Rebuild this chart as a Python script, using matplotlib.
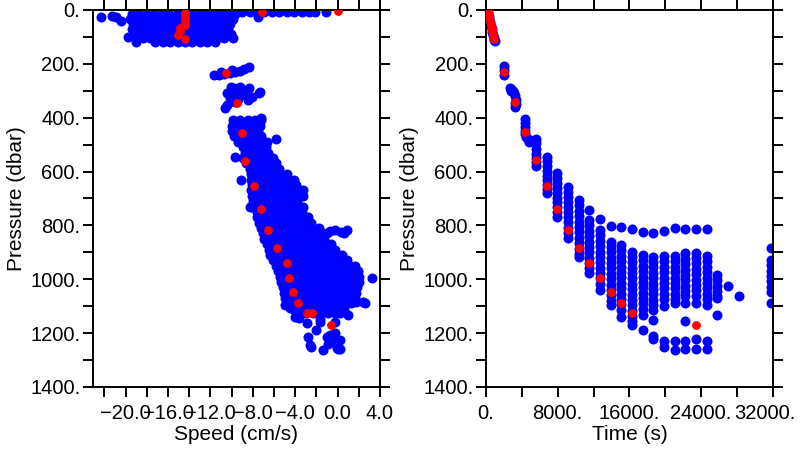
#!/usr/bin/env python3

import numpy as np
import matplotlib
matplotlib.use('Agg')
import matplotlib.pyplot as plt
import matplotlib.transforms as mtransforms
from matplotlib.ticker import FixedLocator

plt.rcParams['font.family'] = ['Liberation Sans', 'DejaVu Sans']

# ---------------- left panel: speed vs pressure ----------------
# near-surface blob, one row of speeds per pressure level
top_pres = [16, 34, 52, 70, 88, 104, 118]
top_speed = [
    [-19.4, -18.7, -18.0, -17.3, -16.6, -15.9, -15.2, -14.5, -13.8, -13.1, -12.4, -11.7, -11.0, -10.3, -9.7],
    [-19.6, -18.9, -18.2, -17.5, -16.8, -16.1, -15.4, -14.7, -14.0, -13.3, -12.6, -11.9, -11.2, -10.5, -9.9],
    [-19.3, -18.6, -17.9, -17.2, -16.5, -15.8, -15.1, -14.4, -13.7, -13.0, -12.3, -11.6, -10.9, -10.2],
    [-19.4, -18.7, -18.0, -17.3, -16.6, -15.9, -15.2, -14.5, -13.8, -13.1, -12.4, -11.7, -11.0, -10.3],
    [-19.2, -18.5, -17.8, -17.1, -16.4, -15.7, -15.0, -14.3, -13.6, -12.9, -12.2, -11.5, -10.8, -10.1],
    [-18.4, -17.7, -17.0, -16.3, -15.6, -14.9, -14.2, -13.5, -12.8, -12.1, -11.4, -10.7, -9.9],
    [-17.2, -16.5, -15.8, -15.1, -14.4, -13.7, -13.0, -12.3, -11.6],
]
# thin surface strip and scattered points
left_spd = [-9.0, -8.3, -7.6, -6.9, -6.2, -5.5, -4.8, -4.1, -3.4, -2.7, -2.1, -1.07,
            -22.3, -21.3, -20.9, -20.4, -19.8, -19.0, -7.5,
            -11.7, -11.2, -10.7, -10.2, -9.7, -9.2, -8.8, -8.4, -11.0, -10.0,
            -10.1, -9.2, -10.4, -9.5, -8.7, -8.1, -7.3, -10.4, -9.7, -8.5, -10.2,
            -10.6, -9.8, -9.0, -9.9, -9.4, -8.8, -7.4, -8.4,
            -7.2, -5.8, -9.7, -9.1, -8.3, 3.2,
            -1.0, -0.7, -0.2, 0.3, 0.85, 0.6,
            -3.4, -4.0, -3.6, -2.9, -2.0, -1.7, -2.8, -1.0, -0.73, -2.6, -2.55,
            -1.36, -0.4, 0.2, 0.06, -0.1, 0.2, -0.7, -0.26, -0.26, -1.67, -0.9,
            1.0, 1.75, 2.4, 2.6, -4.5, -5.0]
left_prs = [6, 6, 6, 6, 6, 6, 6, 6, 6, 6, 6, 8,
            27, 22, 27, 40, 99, 118, 28,
            243, 241, 238, 233, 229, 225, 220, 212, 232, 222,
            285, 285, 310, 304, 316, 322, 306, 353, 341, 335, 328,
            365, 290, 300, 320, 330, 300, 310, 291,
            402, 480, 545, 631, 730, 994,
            829, 820, 817, 823, 817, 830,
            1127, 1140, 1145, 1163, 1188, 1157, 1213, 1213, 1232, 1244, 1251,
            1263, 1220, 1227, 1260, 1256, 1260, 1208, 1157, 1201, 1146, 1239,
            1133, 1083, 1083, 1090, 1108, 1095]

# main descending band, one row of speeds per pressure level
band_pres = [410, 430, 450, 470, 490, 510, 530, 550, 570, 590, 610, 630, 650, 670,
             690, 710, 730, 750, 770, 790, 810, 830, 850, 870, 890, 910, 930, 950,
             970, 990, 1010, 1030, 1050, 1070, 1090, 1110, 1125]
band_speed = [
    [-9.9, -9.2, -8.5, -7.8, -7.2],
    [-10.0, -9.3, -8.6, -7.9, -7.3],
    [-10.0, -9.4, -8.7, -8.0, -7.5],
    [-9.8, -9.1, -8.4, -7.7, -7.2],
    [-9.4, -8.7, -8.0, -7.3, -6.7],
    [-8.9, -8.2, -7.5, -6.8],
    [-8.7, -8.0, -7.3, -6.6],
    [-8.9, -8.2, -7.5, -6.8, -6.1],
    [-8.6, -7.9, -7.2, -6.5, -5.8],
    [-8.3, -7.6, -6.9, -6.2, -5.5],
    [-8.2, -7.5, -6.8, -6.1, -5.4, -4.8],
    [-8.2, -7.5, -6.8, -6.1, -5.4, -4.7, -4.1],
    [-8.1, -7.4, -6.7, -6.0, -5.3, -4.6, -3.9],
    [-8.2, -7.5, -6.8, -6.1, -5.4, -4.7, -4.0, -3.3],
    [-8.1, -7.4, -6.7, -6.0, -5.3, -4.6, -3.9, -3.3],
    [-8.0, -7.3, -6.6, -5.9, -5.2, -4.5, -3.8],
    [-8.1, -7.4, -6.7, -6.0, -5.3, -4.6, -3.9, -3.3],
    [-7.6, -6.9, -6.2, -5.5, -4.8, -4.1, -3.4],
    [-7.6, -6.9, -6.2, -5.5, -4.8, -4.1, -3.4, -2.8],
    [-7.4, -6.7, -6.0, -5.3, -4.6, -3.9, -3.2, -2.5],
    [-7.2, -6.5, -5.8, -5.1, -4.4, -3.7, -3.0, -2.3, -1.8],
    [-7.0, -6.3, -5.6, -4.9, -4.2, -3.5, -2.8, -2.1, -1.5],
    [-6.9, -6.2, -5.5, -4.8, -4.1, -3.4, -2.7, -2.0, -1.3],
    [-6.7, -6.0, -5.3, -4.6, -3.9, -3.2, -2.5, -1.8, -1.1, -0.6],
    [-6.5, -5.8, -5.1, -4.4, -3.7, -3.0, -2.3, -1.6, -0.9, -0.2],
    [-6.4, -5.7, -5.0, -4.3, -3.6, -2.9, -2.2, -1.5, -0.8, -0.1, 0.4],
    [-6.1, -5.4, -4.7, -4.0, -3.3, -2.6, -1.9, -1.2, -0.5, 0.2, 0.9],
    [-5.8, -5.1, -4.4, -3.7, -3.0, -2.3, -1.6, -0.9, -0.2, 0.5, 1.2, 1.6],
    [-5.6, -4.9, -4.2, -3.5, -2.8, -2.1, -1.4, -0.7, 0.0, 0.7, 1.4, 1.9],
    [-5.4, -4.7, -4.0, -3.3, -2.6, -1.9, -1.2, -0.5, 0.2, 0.9, 1.6, 2.0],
    [-5.3, -4.6, -3.9, -3.2, -2.5, -1.8, -1.1, -0.4, 0.3, 1.0, 1.7, 2.0],
    [-5.2, -4.5, -3.8, -3.1, -2.4, -1.7, -1.0, -0.3, 0.4, 1.1, 1.8],
    [-5.1, -4.4, -3.7, -3.0, -2.3, -1.6, -0.9, -0.2, 0.5, 1.2, 1.7],
    [-5.0, -4.3, -3.6, -2.9, -2.2, -1.5, -0.8, -0.1, 0.6, 1.3, 1.6],
    [-4.7, -4.0, -3.3, -2.6, -1.9, -1.2, -0.5, 0.2, 0.9, 1.3],
    [-4.2, -3.5, -2.8, -2.1, -1.4, -0.7, 0.0, 0.6],
    [-3.0, -2.3, -1.6, -0.9, -0.2, 0.2],
]

# red points (profile means)
red_spd = [-14.4, -14.4, -14.4, -14.4, -14.9, -14.9, -15.06, -14.37, -7.09, 0.0,
           -10.56, -9.45, -9.05, -8.7, -7.9, -7.25, -6.55, -5.7, -4.8, -4.57,
           -4.2, -3.7, -2.93, -2.46, -0.66]
red_prs = [12, 25, 40, 56, 68, 80, 93, 109, 9, 3,
           235, 347, 456, 560, 652, 740, 817, 885, 941, 997,
           1046, 1089, 1124, 1124, 1170]

# ---------------- right panel: time vs pressure ----------------
# early descent, explicit points
early_t = [150, 230, 300, 380, 460, 540, 620, 700, 780, 860, 930, 960,
           2000, 2040, 2060,
           2680, 2830, 2980, 3120, 3270, 3300, 3320, 3280, 2750, 3200,
           4390, 4390, 4330, 4300, 4390, 4500, 4680, 4830, 4850,
           5540, 5575, 5575, 5560, 5575, 5590, 5575]
early_p = [2, 12, 22, 34, 46, 58, 70, 82, 94, 104, 112, 116,
           208, 222, 240,
           290, 293, 300, 310, 318, 335, 350, 362, 302, 345,
           405, 420, 435, 448, 462, 472, 478, 482, 492,
           478, 495, 515, 535, 550, 565, 580]

# later profiles, one column of pressures per time
col_time = [6800, 7960, 9150, 10340, 11530, 12720, 13910, 15100, 16290, 17480,
            18670, 19860, 21050, 22240, 23430, 24620, 25810, 27000, 28190, 31760]
col_pres = [
    [545, 562, 580, 598, 615, 632, 650, 666, 680],
    [607, 625, 643, 661, 679, 697, 715, 733, 751, 770],
    [656, 675, 694, 713, 732, 751, 770, 789, 808, 827, 846],
    [706, 726, 746, 766, 786, 806, 826, 846, 866, 886, 906, 916],
    [743, 780, 800, 820, 840, 860, 880, 900, 920, 940, 960, 978],
    [777, 817, 837, 857, 877, 897, 917, 937, 957, 977, 997, 1017, 1040],
    [801, 860, 880, 900, 920, 940, 960, 980, 1000, 1020, 1040, 1060, 1080, 1095],
    [805, 873, 893, 913, 933, 953, 973, 993, 1013, 1033, 1053, 1073, 1093, 1113, 1139],
    [813, 897, 917, 937, 957, 977, 997, 1017, 1037, 1057, 1077, 1097, 1117, 1137, 1155, 1170],
    [823, 910, 930, 950, 970, 990, 1010, 1030, 1050, 1070, 1090, 1110, 1133, 1188],
    [829, 916, 936, 956, 976, 996, 1016, 1036, 1056, 1076, 1096, 1114, 1151, 1210, 1223],
    [820, 914, 934, 954, 974, 994, 1014, 1034, 1054, 1074, 1101, 1231, 1250],
    [811, 914, 934, 954, 974, 994, 1014, 1034, 1054, 1074, 1089, 1229, 1263],
    [813, 904, 924, 944, 964, 984, 1004, 1024, 1044, 1064, 1089, 1154, 1228, 1260],
    [814, 901, 921, 941, 961, 981, 1001, 1021, 1041, 1061, 1089, 1223, 1258],
    [813, 914, 934, 954, 974, 994, 1014, 1034, 1054, 1074, 1095, 1229, 1260],
    [984, 1004, 1024, 1044, 1064, 1071, 1133],
    [1025],
    [1062],
    [885, 928, 948, 968, 988, 1008, 1028, 1048, 1089],
]

red_t = [206, 246, 280, 353, 454, 561, 641, 722, 809, 916,
         2040, 3233, 4386, 5575, 6800, 7963, 9180, 10370, 11535, 12720,
         13910, 15100, 16290, 23450]
red_p = [3, 9, 14, 25, 40, 56, 68, 80, 93, 109,
         229, 343, 454, 558, 652, 740, 817, 885, 941, 996,
         1046, 1089, 1124, 1170]

# ---------------- axis ticks ----------------
p_ticks = [0, 100, 200, 300, 400, 500, 600, 700, 800, 900, 1000, 1100, 1200, 1300, 1400]
p_labels = ['0.', '', '200.', '', '400.', '', '600.', '', '800.', '', '1000.', '',
            '1200.', '', '1400.']
s_ticks = [-22, -20, -18, -16, -14, -12, -10, -8, -6, -4, -2, 0, 2, 4]
s_labels = ['', '\u221220.0', '', '\u221216.0', '', '\u221212.0', '', '\u22128.0', '',
            '\u22124.0', '', '0.0', '', '4.0']
t_ticks = [0, 4000, 8000, 12000, 16000, 20000, 24000, 28000, 32000]
t_labels = ['0.', '', '8000.', '', '16000.', '', '24000.', '', '32000.']

BLUE = '#0000ff'
RED = '#ff0000'
S_BLUE = 52
S_RED = 40


def style_axis(ax):
    ax.set_ylim(1400, 0)
    ax.yaxis.set_major_locator(FixedLocator(p_ticks))
    ax.set_yticklabels(p_labels)
    ax.tick_params(direction='out', length=7, width=1.4, top=True, right=True,
                   labelsize=14.5, colors='black')
    ax.tick_params(axis='y', pad=2)
    ax.tick_params(axis='x', pad=5)
    for sp in ax.spines.values():
        sp.set_linewidth(1.4)
    ax.set_ylabel('Pressure (dbar)', fontsize=15, labelpad=3)


fig = plt.figure(figsize=(8, 4.5), dpi=100)
ax1 = fig.add_axes([0.116, 0.14, 0.359, 0.838])
ax2 = fig.add_axes([0.6075, 0.14, 0.3585, 0.838])

# left panel
for p, row in zip(top_pres, top_speed):
    ax1.scatter(row, [p] * len(row), s=S_BLUE, c=BLUE, linewidths=0)
for p, row in zip(band_pres, band_speed):
    ax1.scatter(row, [p] * len(row), s=S_BLUE, c=BLUE, linewidths=0)
ax1.scatter(left_spd, left_prs, s=S_BLUE, c=BLUE, linewidths=0)
ax1.scatter(red_spd, red_prs, s=S_RED, c=RED, linewidths=0, zorder=3)
ax1.set_xlim(-23.1, 4.0)
ax1.xaxis.set_major_locator(FixedLocator(s_ticks))
ax1.set_xticklabels(s_labels)
style_axis(ax1)
ax1.set_xlabel('Speed (cm/s)', fontsize=15, labelpad=2)

# right panel
ax2.scatter(early_t, early_p, s=S_BLUE, c=BLUE, linewidths=0)
for t, col in zip(col_time, col_pres):
    ax2.scatter([t] * len(col), col, s=S_BLUE, c=BLUE, linewidths=0)
ax2.scatter(red_t, red_p, s=S_RED, c=RED, linewidths=0, zorder=3)
ax2.set_xlim(0, 32000)
ax2.xaxis.set_major_locator(FixedLocator(t_ticks))
ax2.set_xticklabels(t_labels)
style_axis(ax2)
ax2.set_xlabel('Time (s)', fontsize=15, labelpad=2)

# keep the last time label inside the figure
last = ax2.get_xticklabels()[-1]
last.set_transform(last.get_transform() +
                   mtransforms.ScaledTranslation(-6 / 72, 0, fig.dpi_scale_trans))

fig.savefig('out.png', dpi=100)
